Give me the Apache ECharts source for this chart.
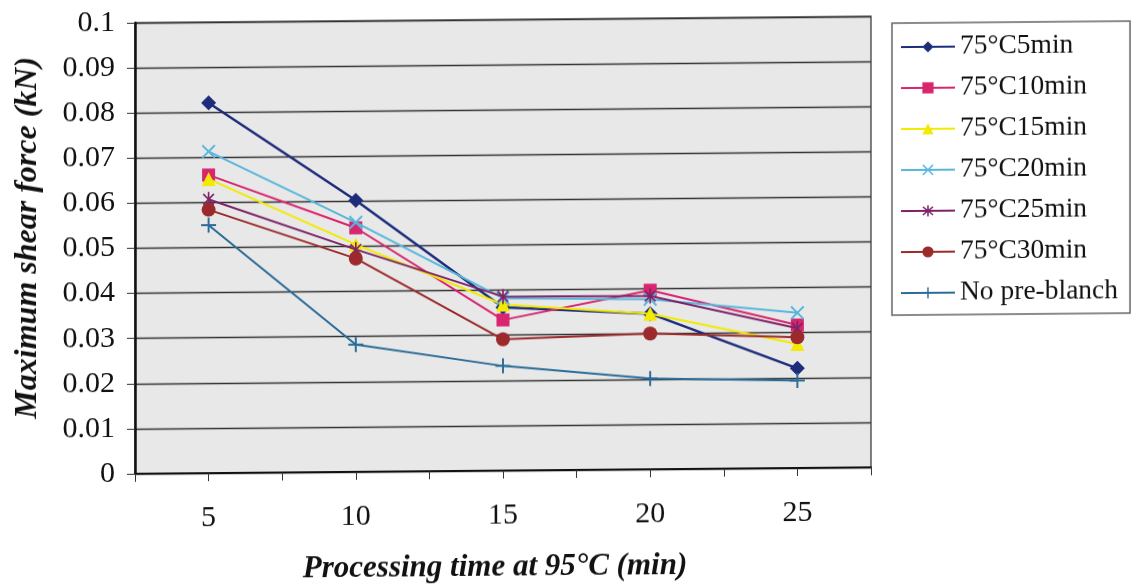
<!DOCTYPE html>
<html>
<head>
<meta charset="utf-8">
<script src="https://cdn.jsdelivr.net/npm/echarts@6/dist/echarts.min.js"></script>
<style>
  html, body { margin: 0; padding: 0; background: #ffffff; }
  #chart {
    width: 1137px; height: 588px;
    transform: skewY(-0.5deg);
    transform-origin: 568px 294px;
  }
</style>
</head>
<body>
<div id="chart"></div>
<script>
// Processing time at 95 °C (min)
const categories = [5, 10, 15, 20, 25];

// Series names
const seriesNames = ['75°C5min', '75°C10min', '75°C15min', '75°C20min', '75°C25min', '75°C30min', 'No pre-blanch'];

// Maximum shear force (kN) for each pre-blanch condition
const blanch5min  = [0.0821, 0.0602, 0.0362, 0.0345, 0.0221];
const blanch10min = [0.0661, 0.0541, 0.0334, 0.0397, 0.0317];
const blanch15min = [0.0652, 0.0504, 0.0368, 0.0345, 0.0275];
const blanch20min = [0.0713, 0.0553, 0.0382, 0.0377, 0.0344];
const blanch25min = [0.0607, 0.0493, 0.0386, 0.0384, 0.0310];
const blanch30min = [0.0584, 0.0473, 0.0291, 0.0301, 0.0290];
const noBlanch    = [0.0550, 0.0282, 0.0232, 0.0201, 0.0194];

// Y-axis tick range
const yMin = 0, yMax = 0.1, yStep = 0.01;

// Builds a filled "arms" marker (x, +, asterisk) as an SVG path
function armPath(angles, R, hw) {
  const pts = [];
  for (let i = 0; i < angles.length; i++) {
    const a = angles[i] * Math.PI / 180;
    const nextDeg = i + 1 === angles.length ? angles[0] + 360 : angles[i + 1];
    const ux = Math.cos(a), uy = Math.sin(a);
    const px = -uy, py = ux;
    pts.push([R * ux - hw * px, R * uy - hw * py]);
    pts.push([R * ux + hw * px, R * uy + hw * py]);
    const d = (nextDeg - angles[i]) * Math.PI / 180;
    const b = a + d / 2;
    const r = hw / Math.sin(d / 2);
    pts.push([r * Math.cos(b), r * Math.sin(b)]);
  }
  return 'path://' + pts.map((p, i) => (i ? 'L' : 'M') + (p[0] + R).toFixed(3) + ',' + (p[1] + R).toFixed(3)).join(' ') + ' Z';
}

const crossSym = armPath([45, 135, 225, 315], 10, 1.1);
const starSym = armPath([45, 90, 135, 225, 270, 315], 10, 1.1);
const plusSym = armPath([0, 90, 180, 270], 10, 1.3);

const styles = [
  { data: blanch5min,  color: '#1e2c7c', symbol: 'diamond',  size: 15, width: 2.5 },
  { data: blanch10min, color: '#d8256e', symbol: 'rect',     size: 13, width: 2 },
  { data: blanch15min, color: '#f2ea00', symbol: 'triangle', size: 14, width: 2 },
  { data: blanch20min, color: '#58b6dd', symbol: crossSym,   size: 14, width: 2 },
  { data: blanch25min, color: '#7c2468', symbol: starSym,    size: 15, width: 2 },
  { data: blanch30min, color: '#9c2a2c', symbol: 'circle',   size: 14, width: 2 },
  { data: noBlanch,    color: '#2a6c98', symbol: plusSym,    size: 15, width: 2 }
];

const serif = 'Liberation Serif';

const series = styles.map((s, i) => ({
  name: seriesNames[i],
  type: 'line',
  data: categories.map((c, j) => [c, s.data[j]]),
  symbol: s.symbol,
  symbolSize: s.size,
  symbolKeepAspect: true,
  showSymbol: true,
  lineStyle: { color: s.color, width: s.width },
  itemStyle: { color: s.color, opacity: 1 },
  emphasis: { disabled: true },
  animation: false,
  z: 2 + i
}));

const chart = echarts.init(document.getElementById('chart'), null, { renderer: 'canvas' });

chart.setOption({
  backgroundColor: '#ffffff',
  animation: false,
  grid: {
    left: 135, right: 266, top: 19, bottom: 118,
    show: true,
    backgroundColor: '#e8e8e8',
    borderColor: '#555555',
    borderWidth: 1.5
  },
  xAxis: {
    type: 'value',
    min: 2.5, max: 27.5, interval: 2.5,
    axisLine: { show: true, onZero: false, lineStyle: { color: '#111', width: 2 } },
    axisTick: { show: true, length: 8, lineStyle: { color: '#333', width: 1 } },
    splitLine: { show: false },
    axisLabel: {
      margin: 30,
      color: '#111',
      fontFamily: serif,
      fontSize: 30,
      formatter: v => (categories.indexOf(Math.round(v * 10) / 10) >= 0 ? String(v) : '')
    }
  },
  yAxis: {
    type: 'value',
    min: yMin, max: yMax, interval: yStep,
    axisLine: { show: true, lineStyle: { color: '#111', width: 2.5 } },
    axisTick: { show: true, length: 8, lineStyle: { color: '#333', width: 1 } },
    splitLine: { show: true, lineStyle: { color: '#333333', width: 1.3 } },
    axisLabel: {
      margin: 20,
      color: '#111',
      fontFamily: serif,
      fontSize: 30,
      formatter: v => String(+v.toFixed(2))
    }
  },
  legend: {
    orient: 'vertical',
    left: 892, top: 26,
    padding: [10, 12, 8, 8],
    itemWidth: 54,
    itemHeight: 14,
    itemGap: 13,
    borderColor: '#666',
    borderWidth: 1.5,
    backgroundColor: '#ffffff',
    textStyle: { fontFamily: serif, fontSize: 27.5, color: '#111', lineHeight: 24 },
    data: seriesNames
  },
  graphic: [
    {
      type: 'text',
      x: 28, y: 233,
      rotation: Math.PI / 2,
      style: {
        text: 'Maximum shear force (kN)',
        font: 'italic bold 32px "Liberation Serif"',
        fill: '#111',
        align: 'center',
        verticalAlign: 'middle'
      }
    },
    {
      type: 'text',
      x: 495, y: 567,
      style: {
        text: 'Processing time at 95°C (min)',
        font: 'italic bold 31px "Liberation Serif"',
        fill: '#111',
        align: 'center',
        verticalAlign: 'middle'
      }
    }
  ],
  series: series
});
</script>
</body>
</html>
